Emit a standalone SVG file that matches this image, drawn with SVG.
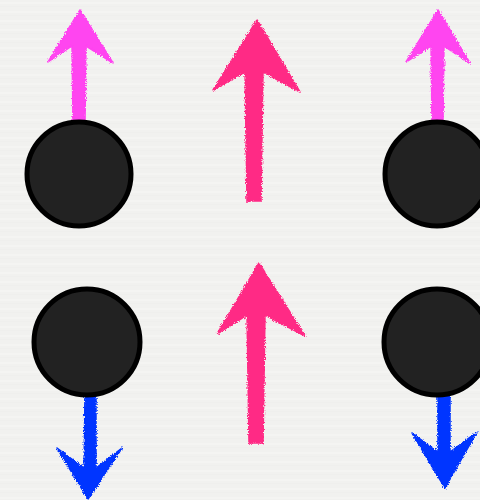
<svg xmlns="http://www.w3.org/2000/svg" width="480" height="500" viewBox="0 0 480 500">
<defs>
<filter id="rough" x="-10%" y="-10%" width="120%" height="120%">
<feTurbulence type="fractalNoise" baseFrequency="0.9" numOctaves="2" seed="3" result="n"/>
<feDisplacementMap in="SourceGraphic" in2="n" scale="4" xChannelSelector="R" yChannelSelector="G"/>
</filter>
<pattern id="paper" width="480" height="9" patternUnits="userSpaceOnUse">
<rect width="480" height="9" fill="#f1f1ef"/>
<rect y="2" width="480" height="2" fill="#f4f4f2"/>
<rect y="6" width="480" height="1" fill="#efefed"/>
</pattern>
<style>
.node circle{fill:#222222;stroke:#000000;stroke-width:5}
.mag{fill:#ff44f0;stroke:#ff44f0;stroke-width:1.5;stroke-linejoin:round}
.pink{fill:#ff2a85;stroke:#ff2a85;stroke-width:1.5;stroke-linejoin:round}
.blue{fill:#0534ff;stroke:#0534ff;stroke-width:1.5;stroke-linejoin:round}
</style>
</defs>
<rect width="480" height="500" fill="url(#paper)"/>
<g id="connectors" filter="url(#rough)">
<path class="mag" d="M80,10 L113,63 L86,46 L85,122 L73,122 L72,46 L48,62 Z"/>
<path class="mag" d="M438,10 L470,63 L444,46 L443,122 L432,122 L431,46 L406,62 Z"/>
<path class="pink" d="M257,20 L300,92 L263,72 L261,201 L247,201 L245,72 L213,90 Z"/>
<path class="pink" d="M259,263 L305,336 L265,315 L263,443 L249,443 L247,315 L217,334 Z"/>
<path class="blue" d="M88,499 L57,448 L84,468 L85,393 L96,393 L96,468 L122,448 Z"/>
<path class="blue" d="M445,488 L412,433 L438,452 L438,393 L450,393 L450,452 L477,432 Z"/>
</g>
<g id="node-tl" class="node"><circle cx="79" cy="174" r="52"/></g>
<g id="node-tr" class="node"><circle cx="437" cy="174" r="52"/></g>
<g id="node-bl" class="node"><circle cx="87" cy="342" r="53"/></g>
<g id="node-br" class="node"><circle cx="437" cy="342" r="53"/></g>
</svg>
